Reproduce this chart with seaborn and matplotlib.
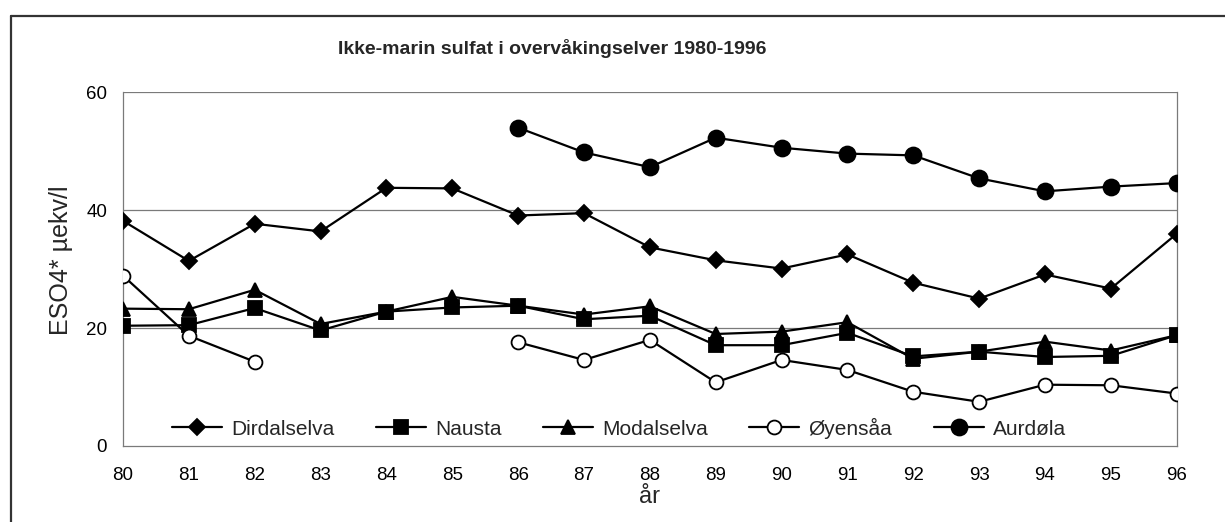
import numpy as np
import pandas as pd
import matplotlib.pyplot as plt
import seaborn as sns
from matplotlib.lines import Line2D

years = list(range(80, 97))

dirdalselva = [38.2, 31.4, 37.7, 36.4, 43.8, 43.7, 39.1, 39.5, 33.7, 31.5, 30.1,
               32.5, 27.7, 25.0, 29.1, 26.7, 36.0]
nausta = [20.4, 20.5, 23.4, 19.6, 22.8, 23.5, 23.8, 21.5, 22.1, 17.1, 17.1,
          19.2, 15.2, 16.0, 15.1, 15.3, 18.8]
modalselva = [23.3, 23.2, 26.5, 20.7, 22.8, 25.3, 23.8, 22.3, 23.7, 19.0, 19.4,
              21.0, 14.8, 16.0, 17.7, 16.2, 18.8]
oyensaa = [28.9, 18.7, 14.3, np.nan, np.nan, np.nan, 17.6, 14.6, 18.0, 10.8, 14.6,
           12.9, 9.2, 7.5, 10.4, 10.3, 8.9]
aurdola = [np.nan] * 6 + [54.0, 49.8, 47.3, 52.3, 50.6, 49.6, 49.3, 45.4, 43.2, 44.0, 44.6]

series_names = ["Dirdalselva", "Nausta", "Modalselva", "Øyensåa", "Aurdøla"]
series_values = [dirdalselva, nausta, modalselva, oyensaa, aurdola]
y_ticks = [0, 20, 40, 60]

# long form, with a segment id so gaps stay gaps
rows = []
for name, vals in zip(series_names, series_values):
    seg = 0
    prev_nan = False
    for yr, v in zip(years, vals):
        if np.isnan(v):
            prev_nan = True
            continue
        if prev_nan:
            seg += 1
            prev_nan = False
        rows.append({"serie": name, "year": yr, "value": v, "seg": seg})
df = pd.DataFrame(rows)

styles = {
    "Dirdalselva": dict(marker="D", ms=8, mfc="black"),
    "Nausta": dict(marker="s", ms=10, mfc="black"),
    "Modalselva": dict(marker="^", ms=10.5, mfc="black"),
    "Øyensåa": dict(marker="o", ms=10, mfc="white"),
    "Aurdøla": dict(marker="o", ms=11.5, mfc="black"),
}

sns.set_style("white")
plt.rcParams["font.family"] = ["Liberation Sans", "DejaVu Sans"]

fig = plt.figure(figsize=(12.25, 5.22), dpi=100)
ax = fig.add_axes([123 / 1225, 1 - 446 / 522, (1176.7 - 123) / 1225, (446 - 92.3) / 522])

for name in series_names:
    st = styles[name]
    sns.lineplot(data=df[df["serie"] == name], x="year", y="value", units="seg",
                 estimator=None, color="black", linewidth=1.6, marker=st["marker"],
                 markersize=st["ms"], markerfacecolor=st["mfc"], markeredgecolor="black",
                 markeredgewidth=1.3, ax=ax, zorder=3)

ax.set_xlim(80, 96)
ax.set_ylim(0, 60)
ax.set_xticks(years)
ax.set_xticklabels([str(y) for y in years])
ax.set_yticks(y_ticks)
ax.set_xlabel("")
ax.set_ylabel("")
ax.grid(False)
for yv in [20, 40, 60]:
    ax.axhline(yv, color="#7a7a7a", linewidth=0.9, zorder=1)
for sp in ["left", "bottom", "right"]:
    ax.spines[sp].set_visible(True)
    ax.spines[sp].set_color("#7a7a7a")
    ax.spines[sp].set_linewidth(0.9)
ax.spines["top"].set_visible(False)
ax.tick_params(axis="both", direction="out", length=4.5, width=0.8, color="#555555",
               labelsize=13.5, colors="black")
ax.tick_params(axis="y", pad=7, color="#555555")
ax.tick_params(axis="x", pad=10.5, color="#555555")

handles = [Line2D([], [], color="black", linewidth=1.6, marker=styles[n]["marker"],
                  markersize=styles[n]["ms"], markerfacecolor=styles[n]["mfc"],
                  markeredgecolor="black", markeredgewidth=1.3) for n in series_names]
ax.legend(handles, series_names, ncol=5, loc="center left",
          bbox_to_anchor=((172 - 123) / 1054, (446 - 428) / 353.7), frameon=False,
          fontsize=15, handlelength=2.4, handletextpad=0.43, columnspacing=2.0,
          borderpad=0, borderaxespad=0)

fig.text(552 / 1225, 1 - 48 / 522, "Ikke-marin sulfat i overvåkingselver 1980-1996",
         ha="center", va="center", fontsize=14, fontweight="bold")
fig.text(61 / 1225, 1 - 260 / 522, "ESO4* µekv/l", rotation=90, ha="center",
         va="center", fontsize=18)
fig.text(650 / 1225, 1 - 497 / 522, "år", ha="center", va="center", fontsize=17)

# outer chart frame (top and left edges visible)
fig.add_artist(Line2D([11 / 1225, 1.0], [1 - 16 / 522, 1 - 16 / 522], color="#333333",
                      linewidth=1.6, transform=fig.transFigure))
fig.add_artist(Line2D([11 / 1225, 11 / 1225], [1 - 16 / 522, 0.0], color="#333333",
                      linewidth=1.6, transform=fig.transFigure))

fig.savefig("out.png", dpi=100)
